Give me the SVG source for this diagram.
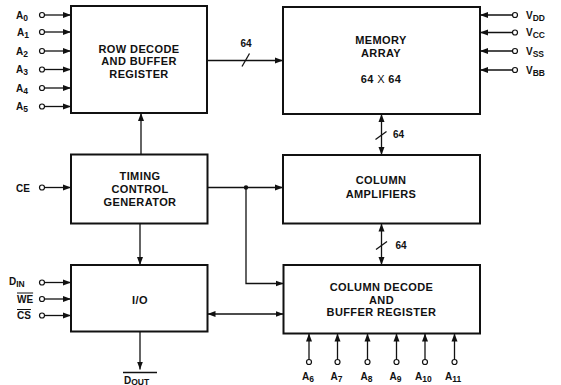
<svg xmlns="http://www.w3.org/2000/svg" width="561" height="385" viewBox="0 0 561 385">
<style>
  .box { fill: #fff; stroke: #111; stroke-width: 2; }
  .ln { fill: none; stroke: #111; stroke-width: 1.3; }
  .pin { fill: #fff; stroke: #111; stroke-width: 1.2; }
  .t { font-family: "Liberation Sans", Arial, sans-serif; font-weight: bold; font-size: 11px; letter-spacing: 0.4px; fill: #111; text-anchor: middle; }
  .lb { font-family: "Liberation Sans", Arial, sans-serif; font-weight: bold; font-size: 10px; fill: #111; }
  .sub { font-size: 8.5px; }
  .ov { text-decoration: overline; }
</style>
<defs>
  <marker id="ah" markerUnits="userSpaceOnUse" markerWidth="9" markerHeight="7" refX="8" refY="3" orient="auto-start-reverse" viewBox="0 0 9 6">
    <path d="M0,0 L8,3 L0,6 Z" fill="#111"/>
  </marker>
</defs>
<rect width="561" height="385" fill="#fff"/>

<g id="row-decode">
  <rect class="box" x="71" y="6" width="136" height="107"/>
  <text class="t" x="139" y="52.5">ROW DECODE</text>
  <text class="t" x="139" y="65">AND BUFFER</text>
  <text class="t" x="139" y="77.5">REGISTER</text>
</g>
<g id="memory-array">
  <rect class="box" x="283" y="7" width="197" height="107"/>
  <text class="t" x="381" y="43.5">MEMORY</text>
  <text class="t" x="381" y="56.5">ARRAY</text>
  <text class="t" x="381" y="82.5">64 <tspan font-weight="normal">X</tspan> 64</text>
</g>
<g id="timing-control">
  <rect class="box" x="71" y="154.5" width="136.5" height="69"/>
  <text class="t" x="140" y="180">TIMING</text>
  <text class="t" x="140" y="193">CONTROL</text>
  <text class="t" x="140" y="206">GENERATOR</text>
</g>
<g id="column-amplifiers">
  <rect class="box" x="283" y="155" width="197" height="68.5"/>
  <text class="t" x="381" y="183.5">COLUMN</text>
  <text class="t" x="381" y="197.5">AMPLIFIERS</text>
</g>
<g id="io">
  <rect class="box" x="71" y="265" width="136.5" height="66.5"/>
  <text class="t" x="140" y="303.5">I/O</text>
</g>
<g id="column-decode">
  <rect class="box" x="283.5" y="265" width="196.5" height="68.5"/>
  <text class="t" x="381.5" y="291">COLUMN DECODE</text>
  <text class="t" x="381.5" y="303.5">AND</text>
  <text class="t" x="381.5" y="316">BUFFER REGISTER</text>
</g>

<g id="connectors">
  <!-- row address inputs -->
  <circle class="pin" cx="42" cy="15" r="2.5"/><line class="ln" x1="44.5" y1="15" x2="71" y2="15" marker-end="url(#ah)"/>
  <circle class="pin" cx="42" cy="32" r="2.5"/><line class="ln" x1="44.5" y1="32" x2="71" y2="32" marker-end="url(#ah)"/>
  <circle class="pin" cx="42" cy="51" r="2.5"/><line class="ln" x1="44.5" y1="51" x2="71" y2="51" marker-end="url(#ah)"/>
  <circle class="pin" cx="42" cy="69.5" r="2.5"/><line class="ln" x1="44.5" y1="69.5" x2="71" y2="69.5" marker-end="url(#ah)"/>
  <circle class="pin" cx="42" cy="88" r="2.5"/><line class="ln" x1="44.5" y1="88" x2="71" y2="88" marker-end="url(#ah)"/>
  <circle class="pin" cx="42" cy="106.5" r="2.5"/><line class="ln" x1="44.5" y1="106.5" x2="71" y2="106.5" marker-end="url(#ah)"/>
  <!-- supplies -->
  <circle class="pin" cx="515" cy="15" r="2.5"/><line class="ln" x1="512.5" y1="15" x2="480" y2="15" marker-end="url(#ah)"/>
  <circle class="pin" cx="515" cy="32.5" r="2.5"/><line class="ln" x1="512.5" y1="32.5" x2="480" y2="32.5" marker-end="url(#ah)"/>
  <circle class="pin" cx="515" cy="51" r="2.5"/><line class="ln" x1="512.5" y1="51" x2="480" y2="51" marker-end="url(#ah)"/>
  <circle class="pin" cx="515" cy="70" r="2.5"/><line class="ln" x1="512.5" y1="70" x2="480" y2="70" marker-end="url(#ah)"/>
  <!-- row decode to memory bus -->
  <line class="ln" x1="207" y1="60.5" x2="283" y2="60.5" marker-end="url(#ah)"/>
  <line class="ln" x1="242" y1="66.5" x2="249.5" y2="53.5"/>
  <!-- timing to row decode -->
  <line class="ln" x1="141" y1="154.5" x2="141" y2="113" marker-end="url(#ah)"/>
  <!-- CE -->
  <circle class="pin" cx="42" cy="187.5" r="2.5"/><line class="ln" x1="44.5" y1="187.5" x2="71" y2="187.5" marker-end="url(#ah)"/>
  <!-- timing to column amplifiers and column decode -->
  <line class="ln" x1="207.5" y1="187.5" x2="283" y2="187.5" marker-end="url(#ah)"/>
  <circle cx="246" cy="187.5" r="2.2" fill="#111"/>
  <polyline class="ln" points="246,187.5 246,283.5 283.5,283.5" marker-end="url(#ah)"/>
  <!-- timing to I/O -->
  <line class="ln" x1="140" y1="223.5" x2="140" y2="265" marker-end="url(#ah)"/>
  <!-- memory <-> column amplifiers -->
  <line class="ln" x1="381.5" y1="114" x2="381.5" y2="155" marker-start="url(#ah)" marker-end="url(#ah)"/>
  <line class="ln" x1="375.5" y1="139.5" x2="386.5" y2="131.5"/>
  <!-- column amplifiers <-> column decode -->
  <line class="ln" x1="381.5" y1="223.5" x2="381.5" y2="265" marker-start="url(#ah)" marker-end="url(#ah)"/>
  <line class="ln" x1="376" y1="249.5" x2="387" y2="241.5"/>
  <!-- I/O inputs -->
  <circle class="pin" cx="42" cy="282.5" r="2.5"/><line class="ln" x1="44.5" y1="282.5" x2="71" y2="282.5" marker-end="url(#ah)"/>
  <circle class="pin" cx="42" cy="299" r="2.5"/><line class="ln" x1="44.5" y1="299" x2="71" y2="299" marker-end="url(#ah)"/>
  <circle class="pin" cx="42" cy="315.5" r="2.5"/><line class="ln" x1="44.5" y1="315.5" x2="71" y2="315.5" marker-end="url(#ah)"/>
  <!-- I/O <-> column decode -->
  <line class="ln" x1="207.5" y1="314" x2="283.5" y2="314" marker-start="url(#ah)" marker-end="url(#ah)"/>
  <!-- DOUT -->
  <line class="ln" x1="140" y1="331.5" x2="140" y2="369.5" marker-end="url(#ah)"/>
  <line class="ln" x1="123" y1="372.5" x2="157" y2="372.5"/>
  <!-- column address inputs -->
  <circle class="pin" cx="309" cy="362" r="2.5"/><line class="ln" x1="309" y1="359.5" x2="309" y2="333.5" marker-end="url(#ah)"/>
  <circle class="pin" cx="337.5" cy="362" r="2.5"/><line class="ln" x1="337.5" y1="359.5" x2="337.5" y2="333.5" marker-end="url(#ah)"/>
  <circle class="pin" cx="367.5" cy="362" r="2.5"/><line class="ln" x1="367.5" y1="359.5" x2="367.5" y2="333.5" marker-end="url(#ah)"/>
  <circle class="pin" cx="396.5" cy="362" r="2.5"/><line class="ln" x1="396.5" y1="359.5" x2="396.5" y2="333.5" marker-end="url(#ah)"/>
  <circle class="pin" cx="425" cy="362" r="2.5"/><line class="ln" x1="425" y1="359.5" x2="425" y2="333.5" marker-end="url(#ah)"/>
  <circle class="pin" cx="454.5" cy="362" r="2.5"/><line class="ln" x1="454.5" y1="359.5" x2="454.5" y2="333.5" marker-end="url(#ah)"/>
</g>

<g id="labels">
  <text class="lb" x="16" y="18.5">A<tspan class="sub" dy="2">0</tspan></text>
  <text class="lb" x="17" y="36">A<tspan class="sub" dy="2">1</tspan></text>
  <text class="lb" x="16" y="54.5">A<tspan class="sub" dy="2">2</tspan></text>
  <text class="lb" x="16" y="73">A<tspan class="sub" dy="2">3</tspan></text>
  <text class="lb" x="16" y="91.5">A<tspan class="sub" dy="2">4</tspan></text>
  <text class="lb" x="16" y="110">A<tspan class="sub" dy="2">5</tspan></text>
  <text class="lb" x="526" y="18.5">V<tspan class="sub" dy="2">DD</tspan></text>
  <text class="lb" x="526" y="36">V<tspan class="sub" dy="2">CC</tspan></text>
  <text class="lb" x="526" y="54.5">V<tspan class="sub" dy="2">SS</tspan></text>
  <text class="lb" x="526" y="73.5">V<tspan class="sub" dy="2">BB</tspan></text>
  <text class="lb" x="246" y="46.5" text-anchor="middle">64</text>
  <text class="lb" x="393" y="137.5">64</text>
  <text class="lb" x="395.5" y="248.5">64</text>
  <text class="lb" x="16" y="191.5">CE</text>
  <text class="lb" x="9" y="285">D<tspan class="sub" dy="2">IN</tspan></text>
  <text class="lb ov" x="17" y="302.5">WE</text>
  <text class="lb ov" x="17" y="319">CS</text>
  <text class="lb" x="124" y="383.5">D<tspan class="sub" dy="1">OUT</tspan></text>
  <text class="lb" x="302" y="380">A<tspan class="sub" dy="2">6</tspan></text>
  <text class="lb" x="330.5" y="380">A<tspan class="sub" dy="2">7</tspan></text>
  <text class="lb" x="360.5" y="380">A<tspan class="sub" dy="2">8</tspan></text>
  <text class="lb" x="389.5" y="380">A<tspan class="sub" dy="2">9</tspan></text>
  <text class="lb" x="415" y="380">A<tspan class="sub" dy="2">10</tspan></text>
  <text class="lb" x="445" y="380">A<tspan class="sub" dy="2">11</tspan></text>
</g>
</svg>
